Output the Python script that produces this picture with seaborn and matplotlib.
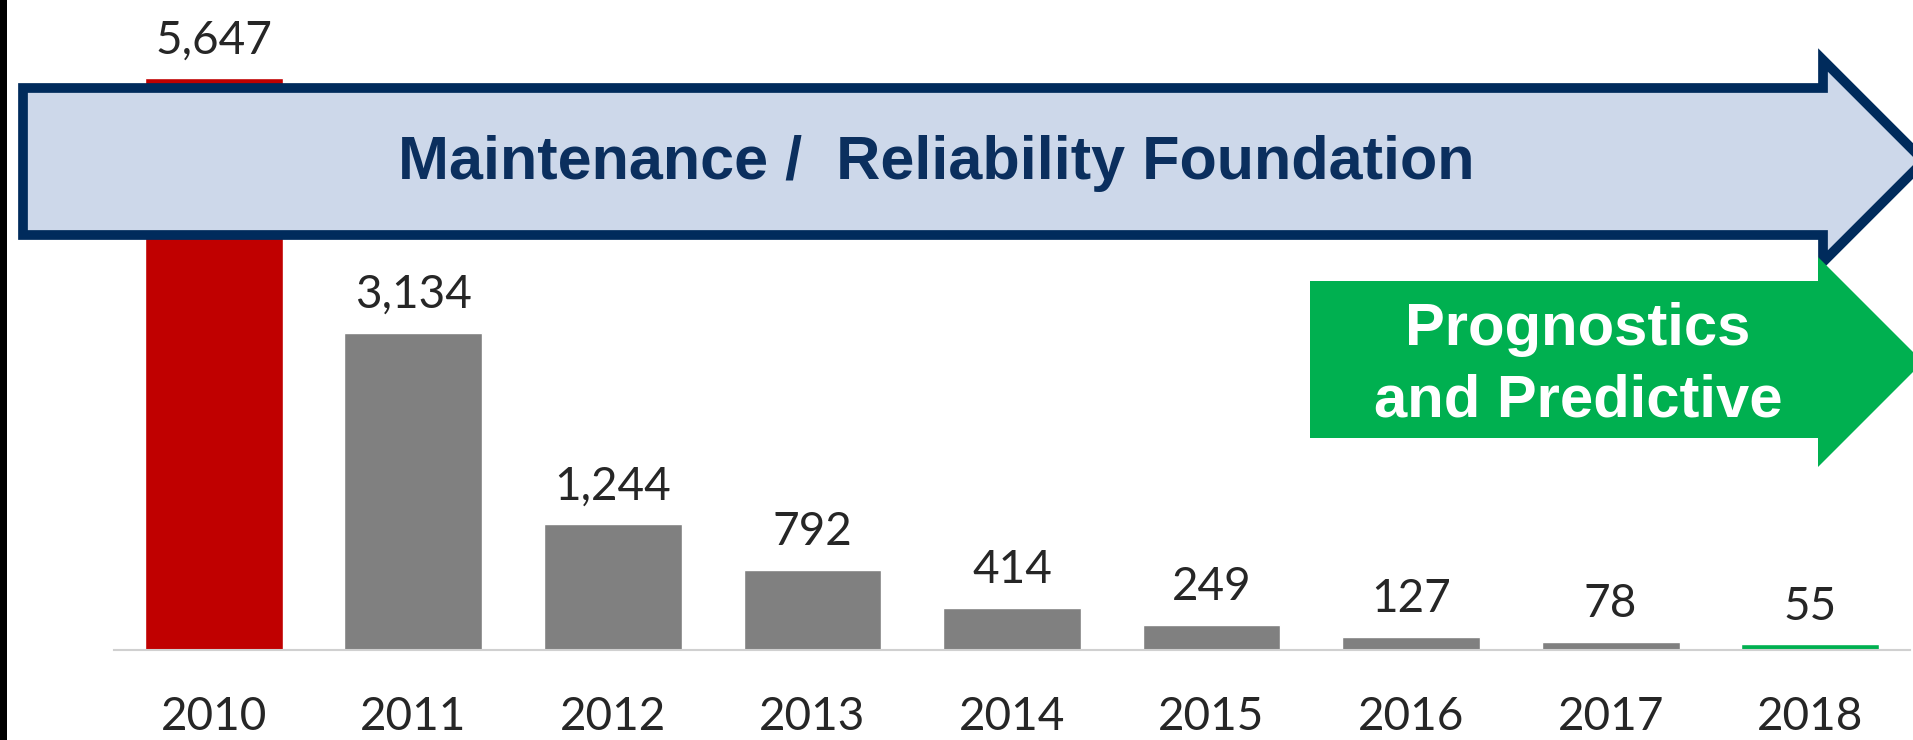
import numpy as np
import matplotlib
matplotlib.use('Agg')
import matplotlib.pyplot as plt
from matplotlib.patches import Polygon, Rectangle
import seaborn as sns

years = ['2010', '2011', '2012', '2013', '2014', '2015', '2016', '2017', '2018']
events = [5647, 3134, 1244, 792, 414, 249, 127, 78, 55]
bar_colors = ['#C00000'] + ['#808080'] * 7 + ['#00B050']

band_text = 'Maintenance /  Reliability Foundation'
next_text = 'Prognostics\nand Predictive'

W, H = 1913, 740

sns.set_style('white')
plt.rcParams['font.family'] = ['Lato', 'DejaVu Sans']

fig = plt.figure(figsize=(W / 100, H / 100), dpi=100)
ax = fig.add_axes([114 / W, (H - 650) / H, (1910 - 114) / W, 650 / H])

sns.barplot(x=years, y=events, hue=years, palette=bar_colors, legend=False,
            width=0.69, saturation=1, ax=ax)
ax.set_xlim(-0.5, 8.5)
ax.set_ylim(0, 650 / 0.1013)

for c in ax.containers:
    ax.bar_label(c, labels=[f'{int(v):,}' for v in c.datavalues], padding=12,
                 fontsize=33, color='#262626')

sns.despine(ax=ax, left=True)
ax.spines['bottom'].set_color('#D0D0D0')
ax.spines['bottom'].set_linewidth(1.5)
ax.set_yticks([])
ax.set_xticks(np.arange(-0.5, 9, 1), minor=True)
ax.tick_params(axis='x', which='major', length=0, pad=33, labelsize=33,
               labelcolor='#262626')
ax.tick_params(axis='x', which='minor', length=11, width=1.5, color='#C8C8C8',
               direction='out')
ax.set_xlabel('')
ax.set_ylabel('')


def px(points):
    return [(x / W, 1 - y / H) for x, y in points]


blue = Polygon(px([(23, 88), (1823, 88), (1823, 60), (1924, 161), (1823, 262),
                   (1823, 235), (23, 235)]),
               closed=True, transform=fig.transFigure, facecolor='#CDD8EA',
               edgecolor='#002B5C', linewidth=7, joinstyle='miter', zorder=2)
fig.add_artist(blue)

green = Polygon(px([(1310, 281), (1818, 281), (1818, 257), (1923, 362),
                    (1818, 467), (1818, 438), (1310, 438)]),
                closed=True, transform=fig.transFigure, facecolor='#00B050',
                edgecolor='none', zorder=2)
fig.add_artist(green)

fig.text(936 / W, 1 - 164 / H, band_text, ha='center', va='center',
         fontsize=44, fontweight='bold', color='#0B2F5E',
         family=['Liberation Sans', 'DejaVu Sans'], zorder=3)
fig.text(1578 / W, 1 - 365 / H, next_text, ha='center', va='center',
         fontsize=43, fontweight='bold', color='white', linespacing=1.38,
         family=['Liberation Sans', 'DejaVu Sans'], zorder=3)

fig.add_artist(Rectangle((0, 0), 7 / W, 1, transform=fig.transFigure,
                         facecolor='black', edgecolor='none', zorder=4))

fig.savefig('out.png', dpi=100)
